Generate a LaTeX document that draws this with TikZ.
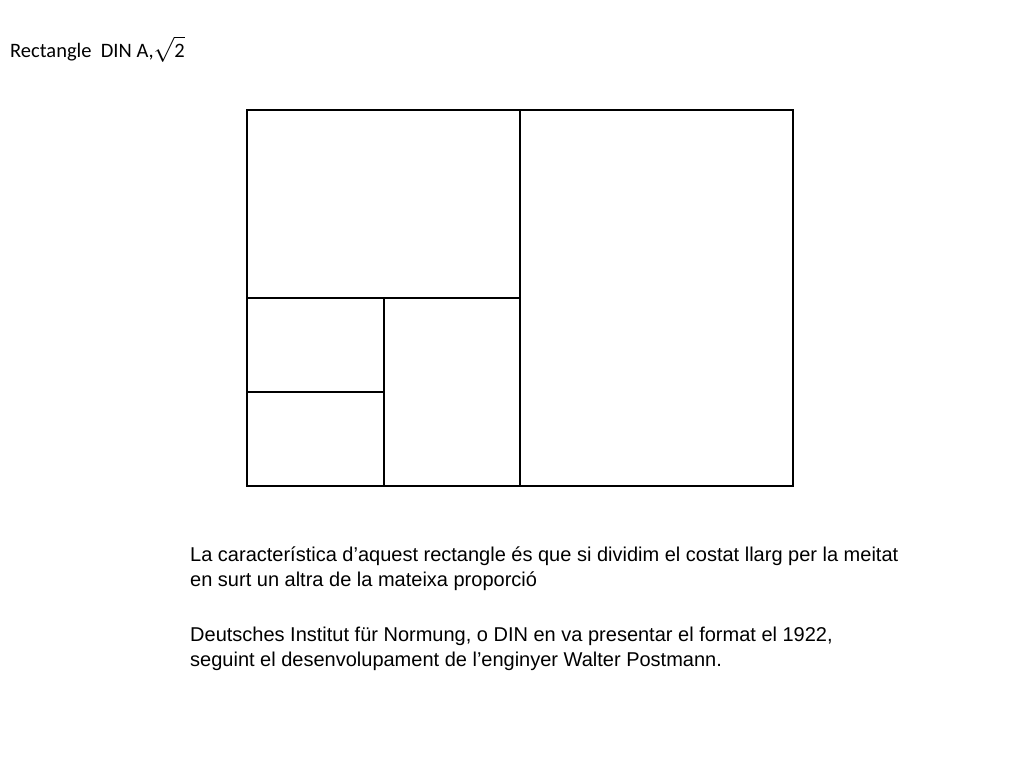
\documentclass[tikz,border=0pt]{standalone}
\usepackage{fontspec}
\setmainfont{Liberation Sans}
\newfontfamily\titlefont{Carlito}

\begin{document}
\begin{tikzpicture}[
  x=1pt, y=-1pt,
  outer/.style={draw, line width=2.4pt},
  split/.style={draw, line width=1.3pt},
  heading/.style={anchor=base west, inner sep=0pt, font=\titlefont\fontsize{20.5}{24}\selectfont},
  para/.style={anchor=base west, inner sep=0pt, align=left, font=\fontsize{20}{25}\selectfont}
]

\useasboundingbox (0,0) rectangle (1024,768);

% title
\node[heading] (title) at (10,57) {Rectangle\ \ DIN A,{\fontsize{23}{23}\selectfont$\sqrt{\mbox{\titlefont\fontsize{20.5}{24}\selectfont 2}}$}};

% the sheet and its halvings
\draw[split] (520,110) -- (520,486);
\draw[split] (247,298) -- (520,298);
\draw[split] (384,298) -- (384,486);
\draw[split] (247,392) -- (384,392);
\draw[outer] (247,110) rectangle (793,486);

% notes (anchored on the last line)
\node[para] (note1) at (190,586) {La característica d’aquest rectangle és que si dividim el costat llarg per la meitat\\en surt un altra de la mateixa proporció};
\node[para] (note2) at (190,666) {Deutsches Institut für Normung, o DIN en va presentar el format el 1922,\\seguint el desenvolupament de l’enginyer Walter Postmann.};

\end{tikzpicture}
\end{document}
